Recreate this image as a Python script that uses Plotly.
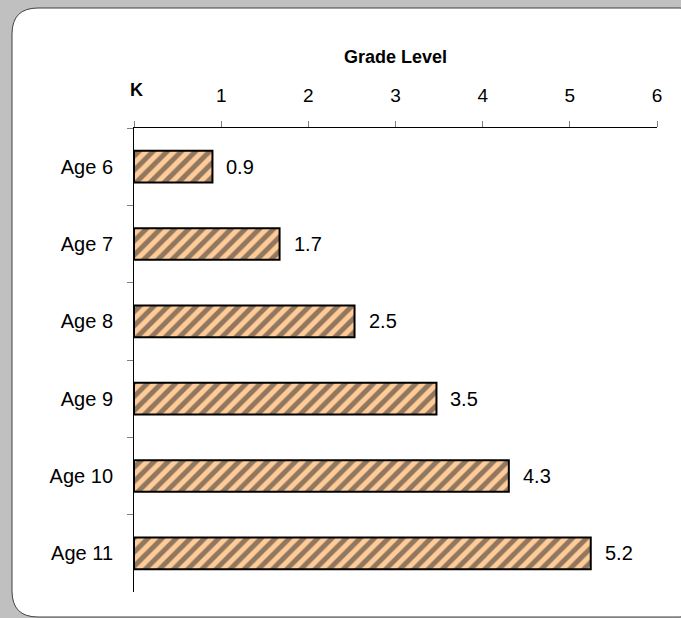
import plotly.graph_objects as go

ages = ["Age 6", "Age 7", "Age 8", "Age 9", "Age 10", "Age 11"]
grade_level = [0.9, 1.67, 2.53, 3.47, 4.3, 5.24]
grade_ticks = [0, 1, 2, 3, 4, 5, 6]
grade_tick_text = ["", "1", "2", "3", "4", "5", "6"]

W, H = 681, 618
L, R, T, B = 134, 24, 128, 26
PW, PH = W - L - R, H - T - B
FONT = "Liberation Sans, Arial"


def px_x(x):
    return (x - L) / PW


def px_y(y):
    return 1 - (y - T) / PH


fig = go.Figure()
fig.add_trace(go.Bar(
    y=ages, x=grade_level, orientation="h", width=0.41,
    marker=dict(color="#FFCC99", line=dict(color="black", width=2),
                pattern=dict(shape="/", fgcolor="#222222", bgcolor="#FFCC99",
                             size=10, solidity=0.5)),
    hoverinfo="skip",
))

for a, v in zip(ages, grade_level):
    fig.add_annotation(x=v, y=a, text=f"{v:.1f}", showarrow=False,
                       xanchor="left", xshift=12,
                       font=dict(family=FONT, size=20, color="black"))

# "K" label for grade 0
fig.add_annotation(x=0, xref="x", y=px_y(89.5), yref="paper", text="<b>K</b>",
                   showarrow=False, xanchor="center", yanchor="middle", xshift=2,
                   font=dict(family=FONT, size=18, color="black"))

# rounded white panel
x0, x1, y0, y1, r = 12, 705, 8, 617, 26
path = (f"M {px_x(x0 + r)},{px_y(y0)} L {px_x(x1 - r)},{px_y(y0)} "
        f"Q {px_x(x1)},{px_y(y0)} {px_x(x1)},{px_y(y0 + r)} "
        f"L {px_x(x1)},{px_y(y1 - r)} Q {px_x(x1)},{px_y(y1)} {px_x(x1 - r)},{px_y(y1)} "
        f"L {px_x(x0 + r)},{px_y(y1)} Q {px_x(x0)},{px_y(y1)} {px_x(x0)},{px_y(y1 - r)} "
        f"L {px_x(x0)},{px_y(y0 + r)} Q {px_x(x0)},{px_y(y0)} {px_x(x0 + r)},{px_y(y0)} Z")
fig.add_shape(type="path", path=path, xref="paper", yref="paper",
              fillcolor="white", line=dict(color="#404040", width=1), layer="below")

fig.update_layout(
    width=W, height=H,
    margin=dict(l=L, r=R, t=T, b=B),
    paper_bgcolor="#C0C0C0", plot_bgcolor="rgba(0,0,0,0)",
    showlegend=False,
    font=dict(family=FONT, size=20, color="black"),
    xaxis=dict(side="top", range=[0, 6], tickvals=grade_ticks, ticktext=grade_tick_text,
               showgrid=False, zeroline=False, showline=True, linecolor="black", linewidth=1,
               ticks="outside", ticklen=6, tickcolor="#808080", ticklabelstandoff=11,
               tickfont=dict(size=19),
               title=dict(text="<b>Grade Level</b>", font=dict(size=18), standoff=17)),
    yaxis=dict(autorange="reversed", showgrid=False, zeroline=False,
               showline=True, linecolor="black", linewidth=1,
               ticks="outside", ticklen=6, tickcolor="#808080", tickson="boundaries",
               ticklabelstandoff=16, tickfont=dict(size=20)),
)

fig.write_html("out.html", config={"displayModeBar": False},
               post_script="document.body.style.margin='0';")
